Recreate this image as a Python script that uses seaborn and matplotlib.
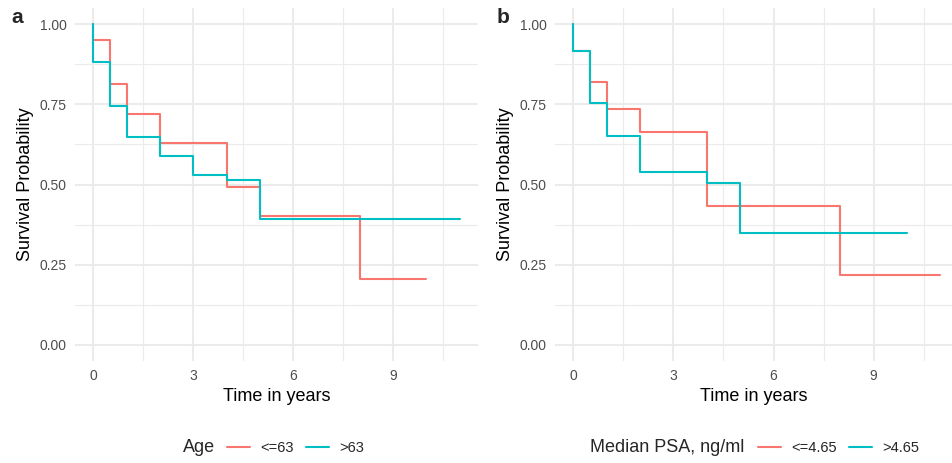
import numpy as np
import pandas as pd
import seaborn as sns
import matplotlib.pyplot as plt
from matplotlib.ticker import MultipleLocator
from matplotlib.lines import Line2D

# Panel a: survival by age group (Kaplan-Meier step curves)
age_groups = ['<=63', '>63']
age_time_low = [0, 0, 0.5, 1, 2, 4, 5, 8, 10]
age_surv_low = [1.0, 0.951, 0.812, 0.719, 0.628, 0.493, 0.403, 0.206, 0.206]
age_time_high = [0, 0, 0.5, 1, 2, 3, 4, 5, 11]
age_surv_high = [1.0, 0.881, 0.746, 0.647, 0.590, 0.529, 0.515, 0.393, 0.393]

# Panel b: survival by median PSA
psa_groups = ['<=4.65', '>4.65']
psa_time_low = [0, 0, 0.5, 1, 2, 4, 8, 11]
psa_surv_low = [1.0, 0.915, 0.818, 0.735, 0.664, 0.434, 0.217, 0.217]
psa_time_high = [0, 0, 0.5, 1, 2, 4, 5, 10]
psa_surv_high = [1.0, 0.917, 0.754, 0.650, 0.538, 0.506, 0.348, 0.348]

colors = ['#F8766D', '#00BFC4']

def make_df(groups, times, survs):
    parts = []
    for g, t, s in zip(groups, times, survs):
        parts.append(pd.DataFrame({'time': t, 'surv': s, 'group': g}))
    return pd.concat(parts, ignore_index=True)

df_age = make_df(age_groups, [age_time_low, age_time_high], [age_surv_low, age_surv_high])
df_psa = make_df(psa_groups, [psa_time_low, psa_time_high], [psa_surv_low, psa_surv_high])

sns.set_theme(style='whitegrid')
plt.rcParams['font.family'] = ['Liberation Sans', 'DejaVu Sans']

fig = plt.figure(figsize=(9.53, 4.63), dpi=100)
ax1 = fig.add_axes([0.0787, 0.2203, 0.4229, 0.7624])
ax2 = fig.add_axes([0.5824, 0.2203, 0.4176, 0.7624])

def style_axis(ax, xmax):
    ax.set_xlim(-0.55, xmax)
    ax.set_ylim(-0.05, 1.05)
    ax.xaxis.set_major_locator(MultipleLocator(3))
    ax.xaxis.set_minor_locator(MultipleLocator(1.5))
    ax.yaxis.set_major_locator(MultipleLocator(0.25))
    ax.yaxis.set_minor_locator(MultipleLocator(0.125))
    ax.set_yticks([0, 0.25, 0.5, 0.75, 1.0])
    ax.set_yticklabels(['0.00', '0.25', '0.50', '0.75', '1.00'])
    ax.grid(which='major', color='#EBEBEB', linewidth=1.5)
    ax.grid(which='minor', color='#EBEBEB', linewidth=0.8)
    for sp in ax.spines.values():
        sp.set_visible(False)
    ax.tick_params(which='both', length=0, labelsize=10, labelcolor='#4D4D4D', pad=6)
    ax.set_xlabel('Time in years', fontsize=13, color='black', labelpad=3)
    ax.set_ylabel('Survival Probability', fontsize=13, color='black', labelpad=4)
    ax.set_facecolor('white')

sns.lineplot(data=df_age, x='time', y='surv', hue='group', palette=colors,
             drawstyle='steps-post', estimator=None, sort=False, linewidth=1.5,
             ax=ax1, legend=False)
sns.lineplot(data=df_psa, x='time', y='surv', hue='group', palette=colors,
             drawstyle='steps-post', estimator=None, sort=False, linewidth=1.5,
             ax=ax2, legend=False)

style_axis(ax1, 11.55)
style_axis(ax2, 11.38)

fig.text(0.012, 0.962, 'a', fontsize=15, fontweight='bold', va='center')
fig.text(0.521, 0.962, 'b', fontsize=15, fontweight='bold', va='center')

handles = [Line2D([], [], color=c, linewidth=1.5) for c in colors]
leg_kw = dict(loc='center left', ncol=2, frameon=False, fontsize=10.5,
              handlelength=1.6, handletextpad=0.7, columnspacing=0.8,
              borderpad=0, borderaxespad=0)
fig.text(0.192, 0.0324, 'Age', fontsize=13, va='center')
fig.legend(handles, age_groups, bbox_to_anchor=(0.2382, 0.0324), **leg_kw)
fig.text(0.619, 0.0324, 'Median PSA, ng/ml', fontsize=13, va='center')
fig.legend(handles, psa_groups, bbox_to_anchor=(0.7954, 0.0324), **leg_kw)

fig.savefig('out.png', dpi=100, facecolor='white')
